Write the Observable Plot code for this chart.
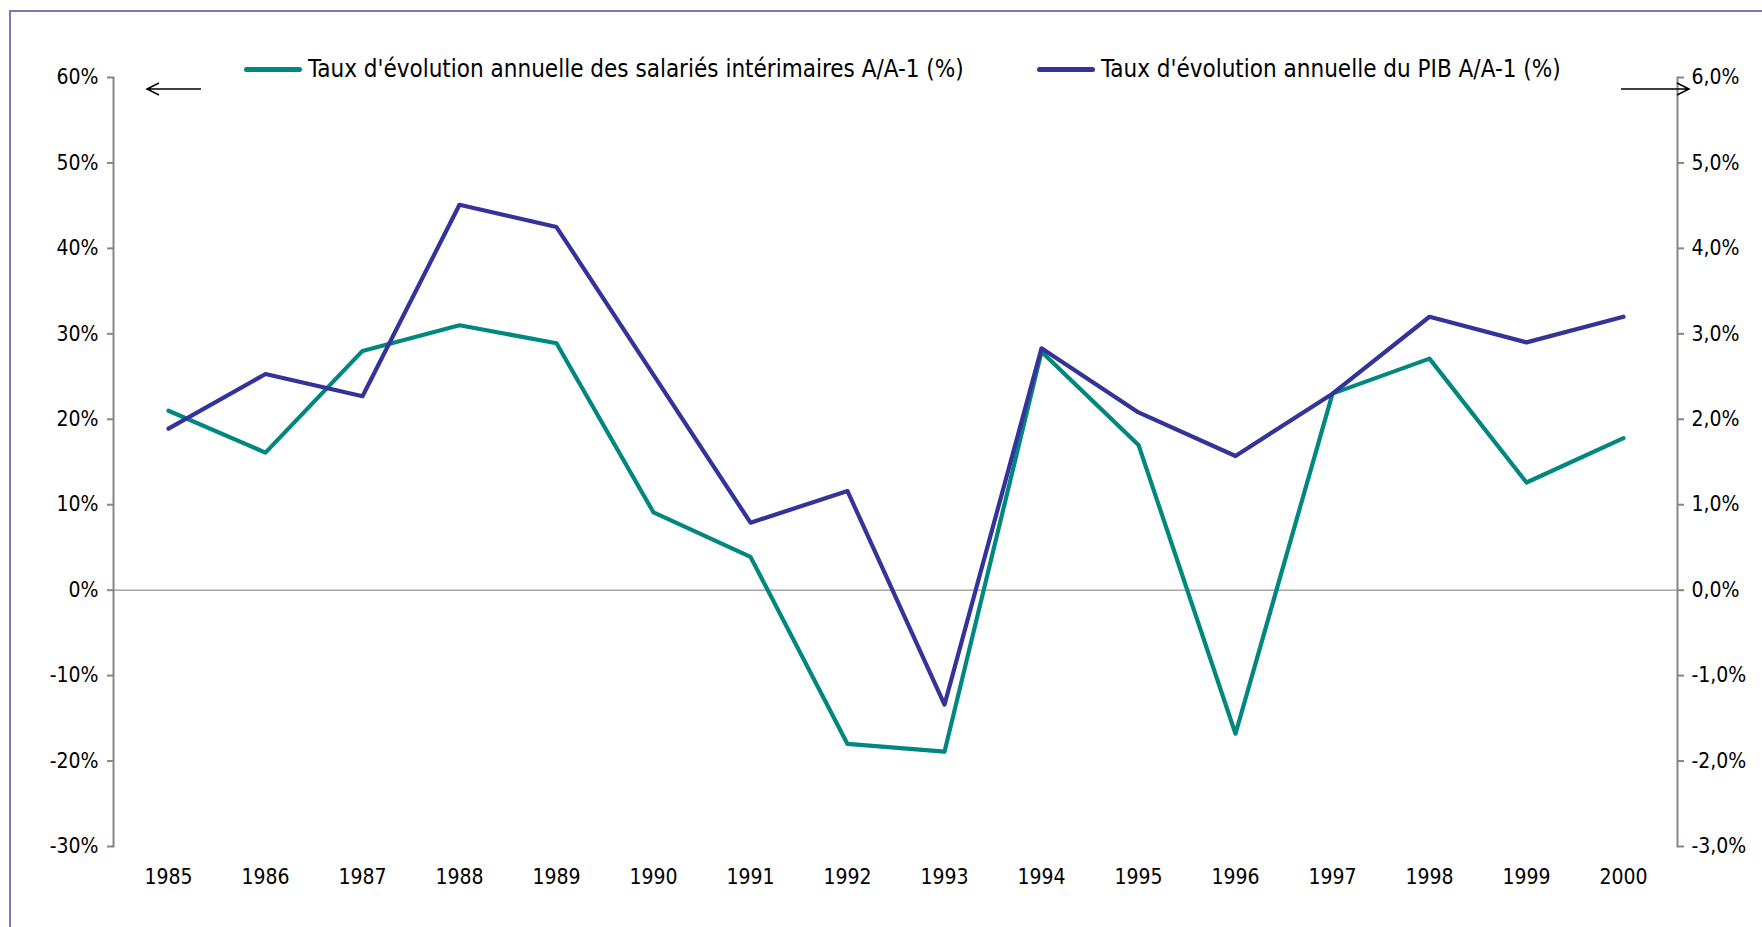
<!DOCTYPE html>
<html><head><meta charset="utf-8">
<script src="https://cdn.jsdelivr.net/npm/d3@7"></script>
<script src="https://cdn.jsdelivr.net/npm/@observablehq/plot@0.6"></script>
<style>
body{margin:0;overflow:hidden;background:#fff;font-family:"DejaVu Sans Condensed",sans-serif;}
#wrap{position:relative;width:1762px;height:927px;overflow:hidden}
#frame{position:absolute;left:9px;top:10px;width:1800px;height:1000px;border:2px solid #7a7ab4;box-sizing:border-box}
#chart{position:absolute;left:0;top:0}
.leg{position:absolute;top:55px;display:flex;align-items:center;font-size:24px;line-height:28px;color:#000;white-space:nowrap}
.sw{display:inline-block;width:58px;height:5px;border-radius:3px;margin-right:6px}
</style></head>
<body>
<div id="wrap">
  <div id="frame"></div>
  <div id="chart"></div>
  <div id="legend"></div>
</div>
<script>
const years = [1985,1986,1987,1988,1989,1990,1991,1992,1993,1994,1995,1996,1997,1998,1999,2000];
const interimaires = [21.0,16.1,28.0,31.0,28.9,9.1,3.9,-18.0,-18.9,27.9,17.0,-16.8,23.0,27.1,12.6,17.8];
const pib = [1.89,2.53,2.27,4.51,4.25,2.52,0.79,1.16,-1.34,2.83,2.08,1.57,2.30,3.20,2.90,3.20];
const leftTicks = [-30,-20,-10,0,10,20,30,40,50,60];
const rightTicks = [-3,-2,-1,0,1,2,3,4,5,6];
const seriesNames = ["Taux d'évolution annuelle des salariés intérimaires A/A-1 (%)","Taux d'évolution annuelle du PIB A/A-1 (%)"];
const seriesColors = ["#00877f","#333399"];
const ratio = 10; // left-axis units per right-axis unit

const d1 = years.map((y,i)=>({year:y, v:interimaires[i]}));
const d2 = years.map((y,i)=>({year:y, v:pib[i]*ratio}));

function arrows(index, scales, values, dim) {
  const g = d3.create("svg:g").attr("stroke","#000").attr("fill","none").attr("stroke-width",1.5);
  const y = dim.marginTop + 12;
  const xl1 = dim.marginLeft + 34, xl2 = dim.marginLeft + 88;
  g.append("path").attr("d",`M${xl2},${y}H${xl1}M${xl1+12},${y-6}L${xl1},${y}L${xl1+12},${y+6}`);
  const xr2 = dim.width - dim.marginRight + 12, xr1 = dim.width - dim.marginRight - 56;
  g.append("path").attr("d",`M${xr1},${y}H${xr2}M${xr2-12},${y-6}L${xr2},${y}L${xr2-12},${y+6}`);
  return g.node();
}

const chart = Plot.plot({
  width:1762, height:927,
  marginLeft:113, marginRight:85, marginTop:77, marginBottom:81,
  style:{fontFamily:'"DejaVu Sans Condensed",sans-serif', fontSize:"21px", color:"#000", background:"transparent"},
  x:{type:"point", domain:years, padding:0.5, axis:null},
  y:{domain:[-30,60], axis:null},
  marks:[
    Plot.ruleY([0],{stroke:"#a6a6a6", strokeWidth:1.5}),
    Plot.axisY(leftTicks,{anchor:"left", label:null, tickSize:6, tickPadding:9, tickFormat:d=>d+"%", stroke:"#868686", strokeWidth:2, fill:"#000"}),
    Plot.frame({anchor:"left", stroke:"#868686", strokeWidth:2}),
    Plot.axisY(rightTicks.map(d=>d*ratio),{anchor:"right", label:null, tickSize:6, tickPadding:8, tickFormat:d=>(d/ratio).toFixed(1).replace(".",",")+"%", stroke:"#868686", strokeWidth:2, fill:"#000"}),
    Plot.frame({anchor:"right", stroke:"#868686", strokeWidth:2}),
    Plot.axisX(years,{anchor:"bottom", label:null, tickSize:0, tickPadding:23, tickFormat:d=>String(d), fill:"#000"}),
    Plot.lineY(d1,{x:"year", y:"v", stroke:seriesColors[0], strokeWidth:4.2}),
    Plot.lineY(d2,{x:"year", y:"v", stroke:seriesColors[1], strokeWidth:4.2}),
    arrows
  ]
});
document.getElementById("chart").appendChild(chart);

const legend = document.getElementById("legend");
const legendX = [244, 1037];
seriesNames.forEach((name,i)=>{
  const item = document.createElement("div");
  item.className = "leg";
  item.style.left = legendX[i] + "px";
  item.innerHTML = `<span class="sw" style="background:${seriesColors[i]}"></span><span></span>`;
  item.lastChild.textContent = name;
  legend.appendChild(item);
});
</script>
</body></html>
